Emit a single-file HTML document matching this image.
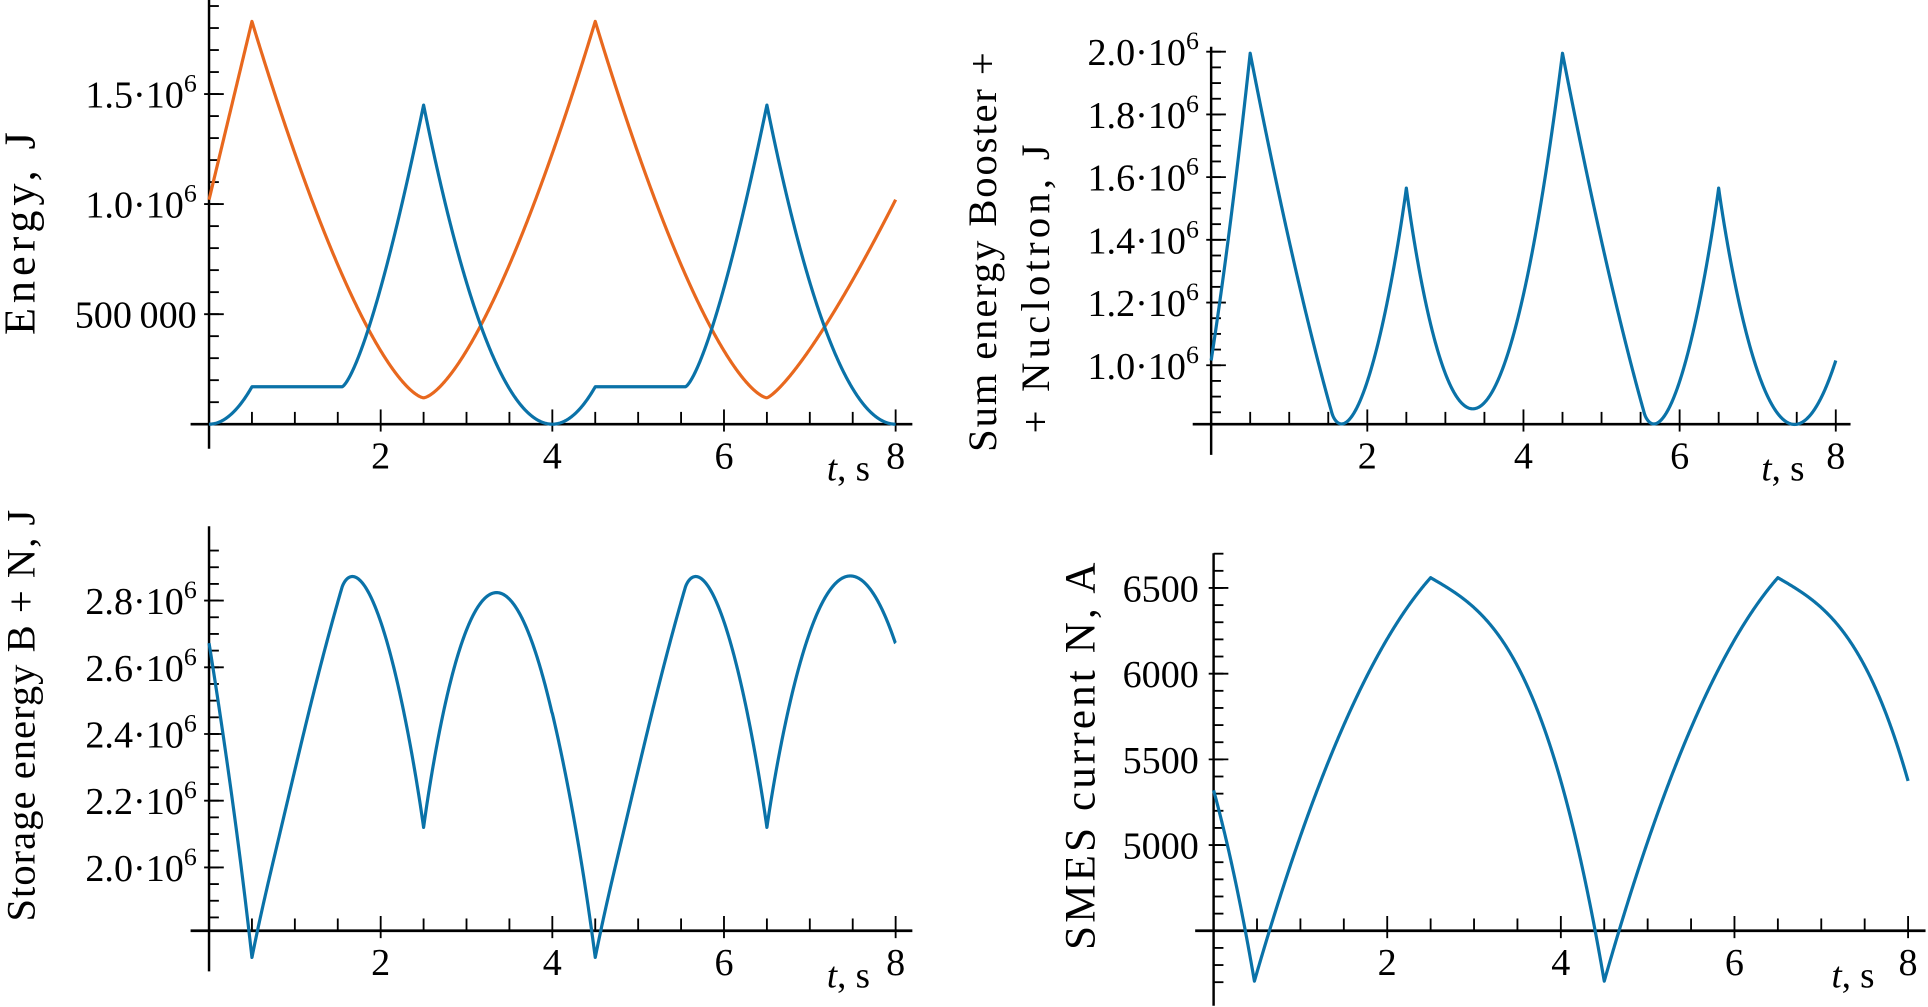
<!DOCTYPE html>
<html><head><meta charset="utf-8"><style>
html,body{margin:0;padding:0;background:#fff;width:1928px;height:1007px;overflow:hidden}
svg{display:block}
text{font-family:"Liberation Serif",serif;fill:#000}
</style></head><body>
<svg id="s" width="1928" height="1007" viewBox="0 0 1568 819" preserveAspectRatio="none" xmlns="http://www.w3.org/2000/svg"></svg>
<script>
var S=document.getElementById('s'),h='';
var BL='#0a72a8',OR='#e8681e';
function B(t){var u=t%4;if(t>=8)u=4;if(u<0.5)return 170e3*Math.pow(u/0.5,2);if(u<1.55)return 170e3;if(u<2.5)return 170e3+1280e3*Math.pow((u-1.55)/0.95,1.4);return 1450e3*Math.pow((4-u)/1.5,2);}
function O(t){var p=1.5;
 if(t<0.5)return 1020e3+810e3*t/0.5;
 if(t<2.5)return 120e3+1710e3*Math.pow((2.5-t)/2,p);
 if(t<4.5)return 120e3+1710e3*Math.pow((t-2.5)/2,p);
 if(t<6.5)return 120e3+1710e3*Math.pow((6.5-t)/2,p);
 return 120e3+900e3*Math.pow(Math.min(t-6.5,1.5)/1.5,1.28);}
function up(s){return 0.49*s+0.51*(1-(1-s)*(1-s));}
function dn(d){return 0.25*d+0.75*Math.pow(d,3);}
function I(t){
 var A=4206,P=6560;
 if(t<0.47)return P-(P-A)*dn((t+1.53)/2);
 if(t<2.5)return A+(P-A)*up((t-0.47)/2.03);
 if(t<4.5)return P-(P-A)*dn((t-2.5)/2);
 if(t<6.5)return A+(P-A)*up((t-4.5)/2);
 return P-(P-A)*dn((t-6.5)/2);}
function path(f,x0,xs,y0,ys,v0,col){var d='';for(var i=0;i<=1600;i++){var t=i*8/1600;var x=x0+t*xs,y=y0-(f(t)-v0)*ys;d+=(i?'L':'M')+x.toFixed(2)+' '+y.toFixed(2);}
 h+='<path d="'+d+'" fill="none" stroke="'+col+'" stroke-width="2.6" stroke-linejoin="round"/>';}
function line(a,b,c,d,w){h+='<line x1="'+a+'" y1="'+b+'" x2="'+c+'" y2="'+d+'" stroke="#000" stroke-width="'+(w||1.5)+'"/>';}
function axes(o){
 line(o.x0-15,o.y0,o.xe,o.y0,2.2);line(o.x0,o.yt,o.x0,o.yb,2);
 for(var k=1;k<=16;k++){var x=o.x0+k*0.5*o.xs;if(k%4==0){line(x,o.y0-12,x,o.y0+6,1.5);}else line(x,o.y0-10,x,o.y0,1.5);}
 for(var k=1;k<=4;k++){var x=o.x0+2*k*o.xs;h+='<text x="'+x+'" y="'+(o.y0+36)+'" font-size="31" text-anchor="middle">'+(2*k)+'</text>';}
 h+='<text x="'+o.tx+'" y="'+(o.y0+46)+'" font-size="30" text-anchor="middle"><tspan font-style="italic">t</tspan>, s</text>';
 for(var v=o.vmin;v<=o.vmax+1e-9;v+=o.minor){var y=o.y0-(v-o.v0)*o.ys;if(y>o.yb||y<o.yt)continue;line(o.x0,y,o.x0+8,y,1.5);}
 o.labels.forEach(function(L){var y=o.y0-(L[0]-o.v0)*o.ys;line(o.x0-4,y,o.x0+12,y,1.5);
  h+='<text x="'+o.lx+'" y="'+(y+11)+'" font-size="31" text-anchor="end">'+L[1]+'</text>';});
}
function sci(a){return a+'\u00b710<tspan font-size="21" dy="-13">6</tspan>';}
function ylab(x,y,fs,s,len){h+='<text transform="translate('+x+','+y+') rotate(-90)" font-size="'+fs+'" text-anchor="middle"'+(len?' textLength="'+len+'" lengthAdjust="spacing"':'')+'>'+s+'</text>';}
// panel1
var p1={x0:170,y0:345,xs:69.8,xe:742,yt:0,yb:365,v0:0,ys:89.5/500e3,vmin:0,vmax:1.9e6,minor:100e3,lx:160,tx:690,
 labels:[[500e3,'500\u2009000'],[1e6,sci('1.0')],[1.5e6,sci('1.5')]]};
axes(p1);path(O,170,69.8,345,89.5/500e3,0,OR);path(B,170,69.8,345,89.5/500e3,0,BL);
ylab(28,190,36,'Energy, J',165);
// panel2
var p2={x0:985,y0:345,xs:63.5,xe:1505,yt:38,yb:370,v0:0.812e6,ys:255/1e6,vmin:0.85e6,vmax:2.0e6,minor:50e3,lx:975,tx:1450,
 labels:[[1e6,sci('1.0')],[1.2e6,sci('1.2')],[1.4e6,sci('1.4')],[1.6e6,sci('1.6')],[1.8e6,sci('1.8')],[2.0e6,sci('2.0')]]};
axes(p2);path(function(t){return B(t)+O(t)-5e3;},985,63.5,345,255/1e6,0.812e6,BL);
ylab(810,205,33,'Sum energy Booster +',325);
ylab(853,235,33,'+ Nuclotron, J',235);
// panel3
var p3={x0:170,y0:757,xs:69.8,xe:742,yt:428,yb:790,v0:1.81e6,ys:271.25/1e6,vmin:1.85e6,vmax:2.95e6,minor:50e3,lx:160,tx:690,
 labels:[[2.0e6,sci('2.0')],[2.2e6,sci('2.2')],[2.4e6,sci('2.4')],[2.6e6,sci('2.6')],[2.8e6,sci('2.8')]]};
axes(p3);path(function(t){return 3.69e6-(B(t)+O(t))+40e3*Math.exp(-Math.pow((t%4-0.5)/0.3,2));},170,69.8,757,271.25/1e6,1.81e6,BL);
ylab(28,582,33,'Storage energy B + N, J',335);
// panel4
var p4={x0:987,y0:757,xs:70.6,xe:1566,yt:450,yb:818,v0:4500,ys:69.7/500,vmin:4200,vmax:6700,minor:100,lx:975,tx:1507,
 labels:[[5000,'5000'],[5500,'5500'],[6000,'6000'],[6500,'6500']]};
axes(p4);path(I,987,70.6,757,69.7/500,4500,BL);
ylab(890,615,35,'SMES current N, A',315);
S.innerHTML=h;
</script>
</body></html>
